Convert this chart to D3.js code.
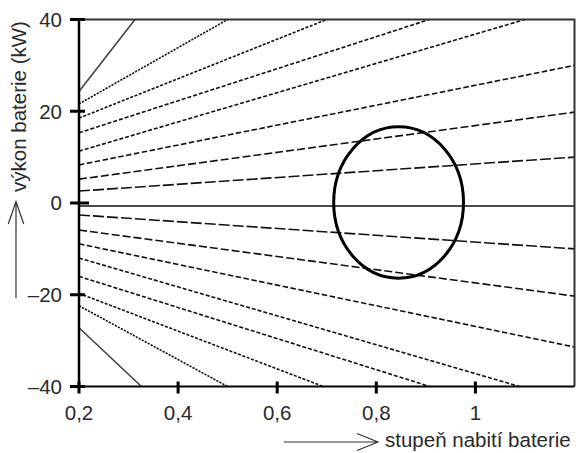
<!DOCTYPE html>
<html>
<meta charset="utf-8">
<style>
  body { margin: 0; background: #fff; }
  text { font-family: "Liberation Sans", Arial, sans-serif; fill: #2a2a2a; }
</style>
<body>
<div id="my_dataviz"></div>

<script src="https://d3js.org/d3.v7.min.js"></script>
<script>

    // axis ticks
    var xTicks = [0.2, 0.4, 0.6, 0.8, 1];
    var xTickLabels = ["0,2", "0,4", "0,6", "0,8", "1"];
    var yTicks = [-40, -20, 0, 20, 40];
    var yTickLabels = ["\u201340", "\u201320", "0", "20", "40"];

    // fan of lines: start at soc 0,2, end where they leave the plot
    var lineStartY = [24.3, 21.6, 18.5, 15.3, 11.3, 8.3, 5.2, 2.6, -0.65, -2.6, -5.9, -8.9, -12.0, -16.0, -19.7, -22.4, -27.2];
    var lineEndX   = [0.313, 0.5, 0.7, 0.907, 1.1, 1.2, 1.2, 1.2, 1.2, 1.2, 1.2, 1.2, 1.089, 0.908, 0.693, 0.5, 0.326];
    var lineEndY   = [40, 40, 40, 40, 40, 30, 19.8, 10, -0.65, -10, -20.3, -31.4, -40, -40, -40, -40, -40];

    // operating region (ellipse): centre soc, centre power, half width, half height
    var regionCenter = [0.845, 0.1];
    var regionRadius = [0.131, 16.5];

    var width = 576, height = 453;

    var svg = d3.select("#my_dataviz")
      .append("svg")
        .attr("width", width)
        .attr("height", height);

    var x = d3.scaleLinear().domain([0.2, 1.2]).range([79, 574.5]);
    var y = d3.scaleLinear().domain([-40, 40]).range([386.5, 19.5]);

    // dash pattern gets finer the steeper the line is
    function dashFor(x0, y0, x1, y1) {
      var a = Math.abs(Math.atan2(y(y1) - y(y0), x(x1) - x(x0))) * 180 / Math.PI;
      if (a < 1) return null;
      if (a < 5) return "11,3";
      if (a < 9) return "8,3";
      if (a < 13) return "5.5,2.5";
      if (a < 20) return "4,2";
      if (a < 25) return "3,1.6";
      if (a < 35) return "2.2,1.2";
      return null;
    }

    var lines = lineStartY.map(function(v, i) {
      return { x0: 0.2, y0: v, x1: lineEndX[i], y1: lineEndY[i] };
    });

    svg.append("g")
      .selectAll("line")
      .data(lines)
      .enter()
      .append("line")
        .attr("x1", function(d) { return x(d.x0); })
        .attr("y1", function(d) { return y(d.y0); })
        .attr("x2", function(d) { return x(d.x1); })
        .attr("y2", function(d) { return y(d.y1); })
        .attr("stroke", function(d) {
          var dash = dashFor(d.x0, d.y0, d.x1, d.y1);
          return (dash || d.y0 === -0.65) ? "#111" : "#444";
        })
        .attr("stroke-width", function(d) { return d.y0 === -0.65 ? 1.5 : 1.6; })
        .attr("stroke-dasharray", function(d) { return dashFor(d.x0, d.y0, d.x1, d.y1); });

    // ellipse
    svg.append("ellipse")
      .attr("cx", x(regionCenter[0]))
      .attr("cy", y(regionCenter[1]))
      .attr("rx", x(regionCenter[0] + regionRadius[0]) - x(regionCenter[0]))
      .attr("ry", y(0) - y(regionRadius[1]))
      .attr("fill", "none")
      .attr("stroke", "#000")
      .attr("stroke-width", 3);

    // frame: top and right
    svg.append("path")
      .attr("d", "M" + x(0.2) + "," + y(40) + "H" + x(1.2) + "V" + y(-40))
      .attr("fill", "none")
      .attr("stroke", "#333")
      .attr("stroke-width", 2);

    // axes lines
    svg.append("line")
      .attr("x1", x(0.2)).attr("x2", x(1.2))
      .attr("y1", y(-40)).attr("y2", y(-40))
      .attr("stroke", "#000").attr("stroke-width", 2);
    svg.append("line")
      .attr("x1", x(0.2)).attr("x2", x(0.2))
      .attr("y1", y(40) - 1).attr("y2", y(-40) + 1)
      .attr("stroke", "#000").attr("stroke-width", 2.5);

    // y ticks
    svg.append("g")
      .selectAll("line")
      .data(yTicks)
      .enter()
      .append("line")
        .attr("x1", x(0.2) - 9)
        .attr("x2", function(d) { return x(0.2) + (d === 0 ? 10 : 6); })
        .attr("y1", function(d) { return y(d); })
        .attr("y2", function(d) { return y(d); })
        .attr("stroke", "#000")
        .attr("stroke-width", 3);

    svg.append("g")
      .selectAll("text")
      .data(yTicks)
      .enter()
      .append("text")
        .attr("x", 62)
        .attr("y", function(d) { return y(d); })
        .attr("dy", "0.36em")
        .attr("text-anchor", "end")
        .style("font-size", "20.5px")
        .text(function(d, i) { return yTickLabels[i]; });

    // x ticks
    svg.append("g")
      .selectAll("line")
      .data(xTicks)
      .enter()
      .append("line")
        .attr("x1", function(d) { return x(d); })
        .attr("x2", function(d) { return x(d); })
        .attr("y1", y(-40) - 5)
        .attr("y2", y(-40) + 7)
        .attr("stroke", "#000")
        .attr("stroke-width", 3);

    svg.append("g")
      .selectAll("text")
      .data(xTicks)
      .enter()
      .append("text")
        .attr("x", function(d) { return x(d); })
        .attr("y", 420)
        .attr("text-anchor", "middle")
        .style("font-size", "20.5px")
        .text(function(d, i) { return xTickLabels[i]; });

    // axis titles with arrows
    svg.append("text")
      .attr("transform", "translate(26,106.5) rotate(-90)")
      .attr("text-anchor", "middle")
      .style("font-size", "20.5px")
      .text("výkon baterie (kW)");

    svg.append("path")
      .attr("d", "M16,298V201.5M8.3,224L16,201.5L23.7,224")
      .attr("fill", "none")
      .attr("stroke", "#333")
      .attr("stroke-width", 1.2);

    svg.append("text")
      .attr("x", 385)
      .attr("y", 447)
      .style("font-size", "20.5px")
      .text("stupeň nabití baterie");

    svg.append("path")
      .attr("d", "M284,442H378M357,433.5L378,442L357,450.5")
      .attr("fill", "none")
      .attr("stroke", "#333")
      .attr("stroke-width", 1.2);

</script>
</body>
</html>
